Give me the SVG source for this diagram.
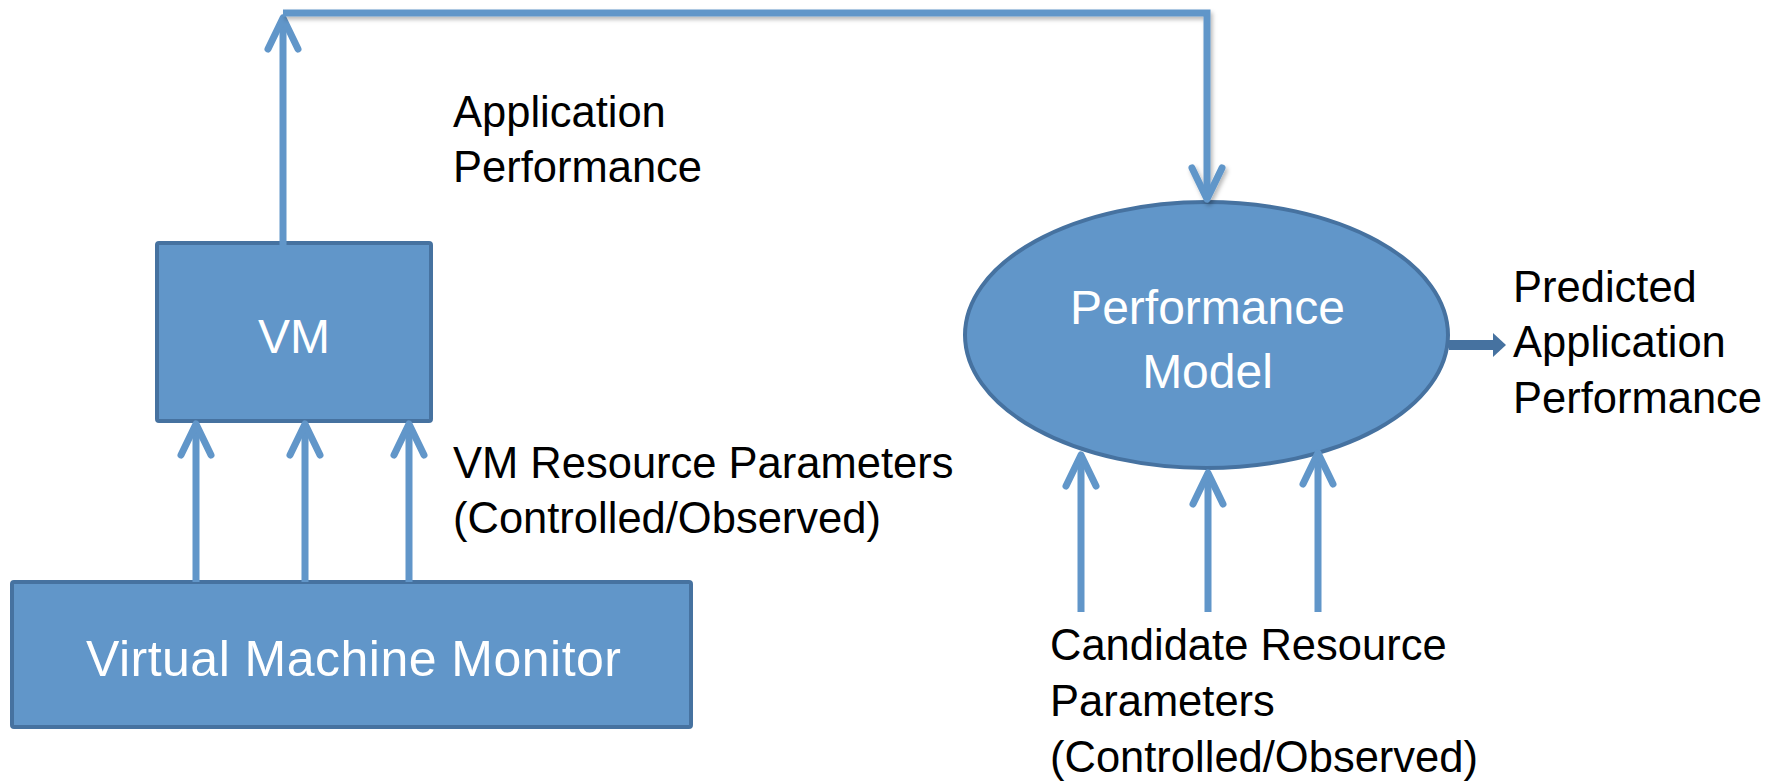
<svg xmlns="http://www.w3.org/2000/svg" width="1784" height="784" viewBox="0 0 1784 784">
  <defs>
    <style>
      .node { fill: #6196c9; stroke: #4672a0; stroke-width: 4; }
      .label { font-family: "Liberation Sans", Arial, sans-serif; font-size: 43.5px; fill: #000000; }
      .inner { font-family: "Liberation Sans", Arial, sans-serif; font-size: 48px; fill: #ffffff; text-anchor: middle; }
      .wire { fill: none; stroke: #6196c9; stroke-width: 7; }
      .head { fill: none; stroke: #6196c9; stroke-width: 7; stroke-linecap: round; stroke-linejoin: round; }
    </style>
    <marker id="open-arrow" markerUnits="userSpaceOnUse" orient="auto" refX="0" refY="0"
            markerWidth="60" markerHeight="60" viewBox="-40 -30 60 60" overflow="visible">
      <path class="head" d="M -31 -15 L 0 0 L -31 15"/>
    </marker>
    <filter id="soft-shadow" x="-5%" y="-50%" width="110%" height="200%">
      <feDropShadow dx="2" dy="3" stdDeviation="2" flood-color="#000000" flood-opacity="0.28"/>
    </filter>
  </defs>

  <!-- nodes -->
  <g id="vm">
    <rect class="node" x="157" y="243" width="274" height="178" rx="2"/>
    <text class="inner" x="294" y="353">VM</text>
  </g>
  <g id="vmm">
    <rect class="node" x="12" y="582" width="679" height="145" rx="2"/>
    <text class="inner" x="353.5" y="676" style="font-size:50px" textLength="535" lengthAdjust="spacing">Virtual Machine Monitor</text>
  </g>
  <g id="performance-model">
    <ellipse class="node" cx="1206.5" cy="335" rx="241.5" ry="133"/>
    <text class="inner" x="1207.5" y="324">Performance</text>
    <text class="inner" x="1207.5" y="388">Model</text>
  </g>

  <!-- free labels -->
  <g id="label-app-perf" class="label">
    <text x="453" y="127">Application</text>
    <text x="453" y="182">Performance</text>
  </g>
  <g id="label-vm-params" class="label">
    <text x="453" y="478">VM Resource Parameters</text>
    <text x="453" y="533">(Controlled/Observed)</text>
  </g>
  <g id="label-candidate" class="label">
    <text x="1050" y="660">Candidate Resource</text>
    <text x="1050" y="716">Parameters</text>
    <text x="1050" y="772">(Controlled/Observed)</text>
  </g>
  <g id="label-predicted" class="label">
    <text x="1513" y="302">Predicted</text>
    <text x="1513" y="357">Application</text>
    <text x="1513" y="413">Performance</text>
  </g>

  <!-- connectors -->
  <g id="connectors">
    <!-- VM output up to the feedback line -->
    <path class="wire" d="M 283 252 L 283 18" marker-end="url(#open-arrow)"/>
    <!-- feedback line across the top and down into the model -->
    <path class="wire" d="M 283 13 L 1207 13 L 1207 199" filter="url(#soft-shadow)" marker-end="url(#open-arrow)"/>
    <!-- hypervisor parameters into the VM -->
    <path class="wire" d="M 196 582 L 196 424" marker-end="url(#open-arrow)"/>
    <path class="wire" d="M 305 582 L 305 424" marker-end="url(#open-arrow)"/>
    <path class="wire" d="M 409 582 L 409 424" marker-end="url(#open-arrow)"/>
    <!-- candidate parameters into the model -->
    <path class="wire" d="M 1081 612 L 1081 455" marker-end="url(#open-arrow)"/>
    <path class="wire" d="M 1208 612 L 1208 473" marker-end="url(#open-arrow)"/>
    <path class="wire" d="M 1318 612 L 1318 453" marker-end="url(#open-arrow)"/>
    <!-- model output -->
    <g id="output-arrow" fill="#4672a0">
      <rect x="1449" y="340" width="46" height="10"/>
      <polygon points="1493,333 1506,345 1493,357"/>
    </g>
  </g>
</svg>
